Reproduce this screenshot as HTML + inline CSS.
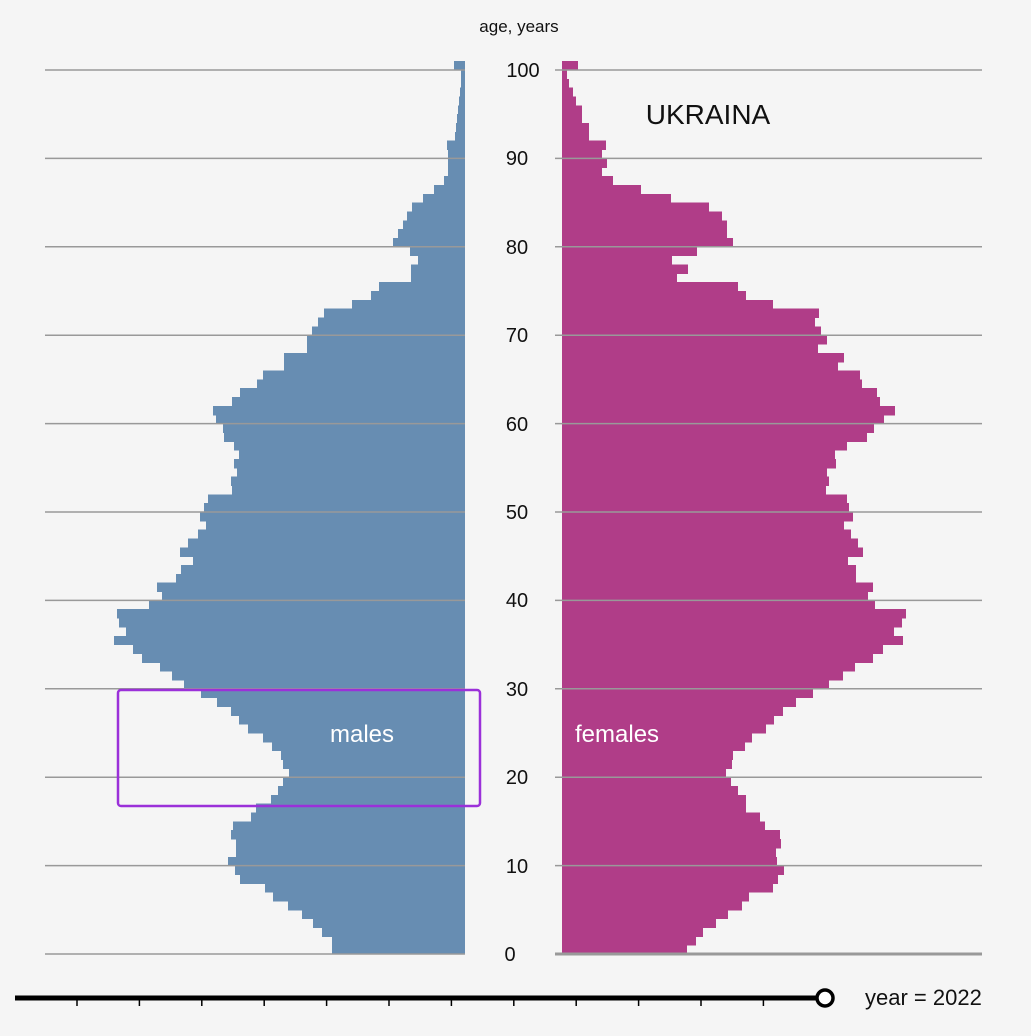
<!DOCTYPE html>
<html><head><meta charset="utf-8">
<style>
html,body{margin:0;padding:0;background:#f5f5f5;}
svg{display:block;font-family:"Liberation Sans",Arial,sans-serif;}
</style></head>
<body>
<svg id="s" width="1031" height="1036" xmlns="http://www.w3.org/2000/svg">
<rect width="1031" height="1036" fill="#f5f5f5"/>
<g id="bars" shape-rendering="crispEdges"></g>
<g id="grid" stroke="#999" stroke-width="1.5"></g>
<line x1="555" y1="954" x2="982" y2="954" stroke="#999" stroke-width="3"/>
<g font-size="20" fill="#111" text-anchor="middle">
<text x="523" y="77">100</text>
<text x="517" y="165">90</text>
<text x="517" y="254">80</text>
<text x="517" y="342">70</text>
<text x="517" y="431">60</text>
<text x="517" y="519">50</text>
<text x="517" y="607">40</text>
<text x="517" y="696">30</text>
<text x="517" y="784">20</text>
<text x="517" y="873">10</text>
<text x="510" y="961">0</text>
</g>
<text x="519" y="32" font-size="17" fill="#111" text-anchor="middle">age, years</text>
<text x="708" y="124" font-size="28" fill="#111" text-anchor="middle">UKRAINA</text>
<text x="362" y="742" font-size="24" fill="#fff" text-anchor="middle">males</text>
<text x="575" y="742" font-size="24" fill="#fff">females</text>
<rect x="118" y="690" width="362" height="116" rx="3" fill="none" stroke="#9b30d9" stroke-width="2.5"/>
<line x1="15" y1="998" x2="818" y2="998" stroke="#000" stroke-width="5"/>
<g id="ticks" stroke="#000" stroke-width="1.5"></g>
<circle cx="825" cy="998" r="8" fill="#fff" stroke="#000" stroke-width="3.5"/>
<text x="865" y="1005" font-size="22" fill="#111">year = 2022</text>
</svg>
<script>
var M=[332,332,322,313,302,288,273,265,240,235,228,236,236,231,233,251,256,271,278,283,289,283,281,272,263,248,239,231,217,201,184,172,160,142,
133,114,126,119,117,149,162,157,176,181,193,180,188,198,206,200,204,208,232,231,237,234,239,234,224,223,216,213,232,240,257,263,284,284,307,307,312,318,324,352,371,379,411,411,418,410,393,398,403,407,412,423,434,444,448,448,448,447,
455,456,457,458,459,460,461,461,454];
var F=[687,696,703,716,728,742,749,773,778,784,777,776,781,780,765,760,746,746,738,731,726,732,733,745,752,766,774,783,796,813,829,843,855,873,
883,903,894,902,906,875,868,873,856,856,848,863,858,851,844,853,849,847,826,829,827,836,835,847,867,874,884,895,880,877,862,860,838,844,818,827,821,815,819,773,746,738,677,688,672,697,733,727,727,722,709,671,641,613,602,607,602,606,589,589,582,582,576,573,569,567,578];
var b=document.getElementById("bars"),h="";
for(var a=0;a<=100;a++){var y=954-8.84*(a+1);
h+='<rect x="'+M[a]+'" y="'+y.toFixed(2)+'" width="'+(465-M[a])+'" height="9.4" fill="#678db2"/>';
h+='<rect x="562" y="'+y.toFixed(2)+'" width="'+(F[a]-562)+'" height="9.4" fill="#b03d88"/>';}
b.innerHTML=h;
var g="";for(var k=1;k<=10;k++){var yy=954-88.4*k;g+='<line x1="45" y1="'+yy+'" x2="465" y2="'+yy+'"/><line x1="555" y1="'+yy+'" x2="982" y2="'+yy+'"/>';}
g+='<line x1="45" y1="954" x2="465" y2="954"/>';
document.getElementById("grid").innerHTML=g;
var t="";for(var i=0;i<12;i++){var x=77+62.4*i;t+='<line x1="'+x+'" y1="1000" x2="'+x+'" y2="1006"/>';}
document.getElementById("ticks").innerHTML=t;
</script>
</body></html>
